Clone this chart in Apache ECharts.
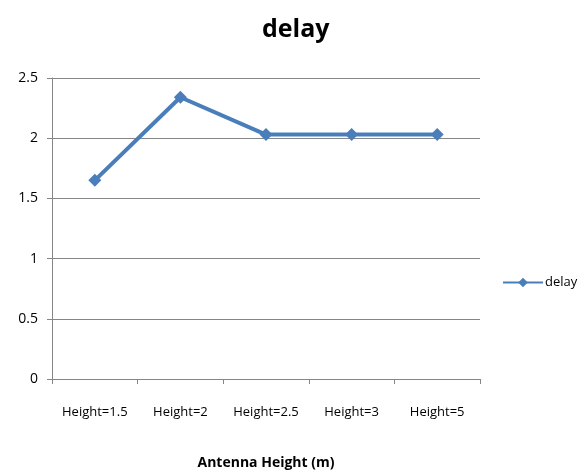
<!DOCTYPE html>
<html>
<head>
<meta charset="utf-8">
<script src="https://cdn.jsdelivr.net/npm/echarts@6/dist/echarts.min.js"></script>
<style>
  html, body { margin: 0; padding: 0; background: #fff; }
  #chart { width: 586px; height: 472px; }
</style>
</head>
<body>
<div id="chart"></div>
<script>
// Delay measured at each antenna height
const categories = ['Height=1.5', 'Height=2', 'Height=2.5', 'Height=3', 'Height=5'];
const delayValues = [1.65, 2.34, 2.03, 2.03, 2.03];
const seriesName = 'delay';

const FONT = "'Open Sans', sans-serif";
const chart = echarts.init(document.getElementById('chart'));
chart.setOption({
  animation: false,
  title: {
    text: 'delay',
    left: 257, top: 12,
    textStyle: { fontFamily: FONT, fontSize: 25, fontWeight: 'bold', color: '#000' }
  },
  legend: {
    data: [seriesName],
    orient: 'vertical',
    left: 497, top: 271,
    itemWidth: 40, itemHeight: 12,
    itemGap: 4,
    textStyle: { fontFamily: FONT, fontSize: 13, color: '#000', padding: [0, 0, 0, -3] }
  },
  grid: { left: 52, right: 106, top: 78, bottom: 93, outerBoundsMode: 'none', containLabel: false },
  xAxis: {
    type: 'category',
    data: categories,
    boundaryGap: true,
    name: 'Antenna Height (m)',
    nameLocation: 'middle',
    nameGap: 77,
    nameTextStyle: { fontFamily: FONT, fontSize: 14, fontWeight: 'bold', color: '#000' },
    axisLine: { lineStyle: { color: '#868686', width: 1 } },
    axisTick: { show: true, length: 5, lineStyle: { color: '#868686' } },
    axisLabel: { interval: 0, fontFamily: FONT, fontSize: 13, color: '#000', margin: 27 }
  },
  yAxis: {
    type: 'value',
    min: 0, max: 2.5, interval: 0.5,
    axisLine: { show: true, lineStyle: { color: '#868686', width: 1 } },
    axisTick: { show: true, length: 5, lineStyle: { color: '#868686' } },
    axisLabel: { fontFamily: FONT, fontSize: 14, color: '#000', margin: 14 },
    splitLine: { lineStyle: { color: '#868686', width: 1 } }
  },
  series: [{
    name: seriesName,
    type: 'line',
    data: delayValues,
    symbol: 'diamond',
    symbolSize: 13,
    itemStyle: { color: '#4a7ebb' },
    lineStyle: { color: '#4a7ebb', width: 4 }
  }]
});
</script>
</body>
</html>
